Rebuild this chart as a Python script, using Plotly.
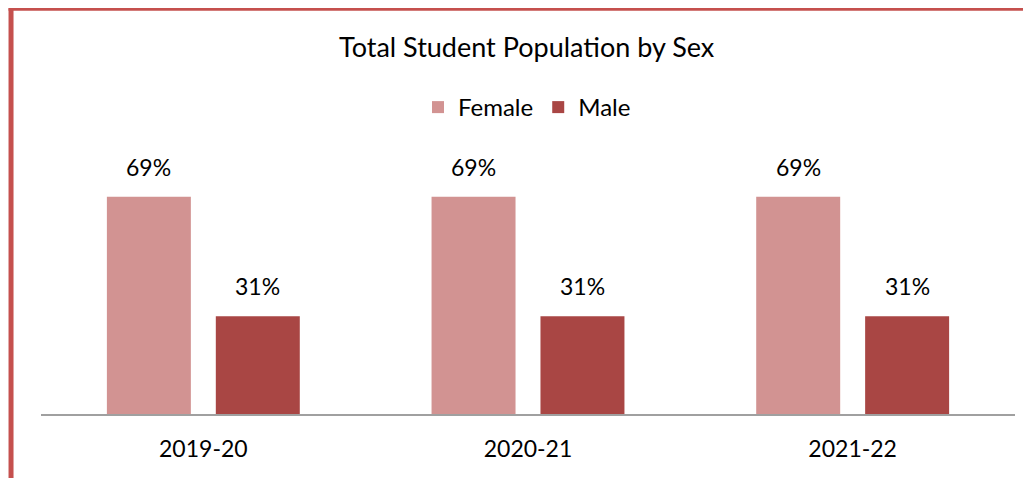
import plotly.graph_objects as go

categories = ["2019-20", "2020-21", "2021-22"]
female = [69, 69, 69]
male = [31, 31, 31]
female_labels = ["69%", "69%", "69%"]
male_labels = ["31%", "31%", "31%"]

FEMALE_COLOR = "#D29392"
MALE_COLOR = "#A94644"
BORDER = "#C5504E"
FONT = "Lato, Open Sans, sans-serif"

# page offset of 8px is compensated in the layout numbers below
PLOT_BOTTOM = 406.0
PLOT_H = 251.6

def py(fig_y):
    return (PLOT_BOTTOM - fig_y) / PLOT_H

def px(fig_x):
    return (fig_x - 32.5) / 975.0

fig = go.Figure()
fig.add_trace(go.Bar(name="Female", x=categories, y=female, marker_color=FEMALE_COLOR,
                     marker_line_width=0))
fig.add_trace(go.Bar(name="Male", x=categories, y=male, marker_color=MALE_COLOR,
                     marker_line_width=0))

annotations = []
for i, c in enumerate(categories):
    annotations.append(dict(x=c, y=female[i], text=female_labels[i], xshift=-54.5,
                            yanchor="bottom", yshift=14, showarrow=False,
                            font=dict(size=23, color="#000000", family=FONT)))
    annotations.append(dict(x=c, y=male[i], text=male_labels[i], xshift=54.5,
                            yanchor="bottom", yshift=14, showarrow=False,
                            font=dict(size=23, color="#000000", family=FONT)))

annotations.append(dict(text="Total Student Population by Sex", xref="paper", yref="paper",
                        x=px(518.5), y=py(39), xanchor="center", yanchor="middle",
                        showarrow=False, font=dict(size=27, color="#000000", family=FONT)))

fig.update_layout(
    width=1031, height=478,
    margin=dict(l=32.5, r=23.5, t=154.4, b=72),
    paper_bgcolor="white", plot_bgcolor="white",
    barmode="group", bargap=0.329, bargroupgap=0.229,
    font=dict(family=FONT, size=23, color="#000000"),
    showlegend=True,
    legend=dict(orientation="h", x=px(519), xanchor="center", y=py(100),
                yanchor="middle", font=dict(size=24, family=FONT), itemwidth=30,
                traceorder="normal"),
    xaxis=dict(showline=True, linecolor="#A0A0A0", linewidth=2, showgrid=False,
               ticks="", ticklabelstandoff=13, tickfont=dict(size=23, family=FONT)),
    yaxis=dict(range=[0, 80], visible=False, showgrid=False, zeroline=False),
    annotations=annotations,
    shapes=[
        dict(type="line", xref="paper", yref="paper",
             x0=px(2.5), x1=px(2.5), y0=py(1), y1=-0.5,
             line=dict(color=BORDER, width=5)),
        dict(type="line", xref="paper", yref="paper",
             x0=px(0), x1=1.1, y0=py(2), y1=py(2),
             line=dict(color=BORDER, width=3)),
    ],
)

fig.write_html("out.html")
